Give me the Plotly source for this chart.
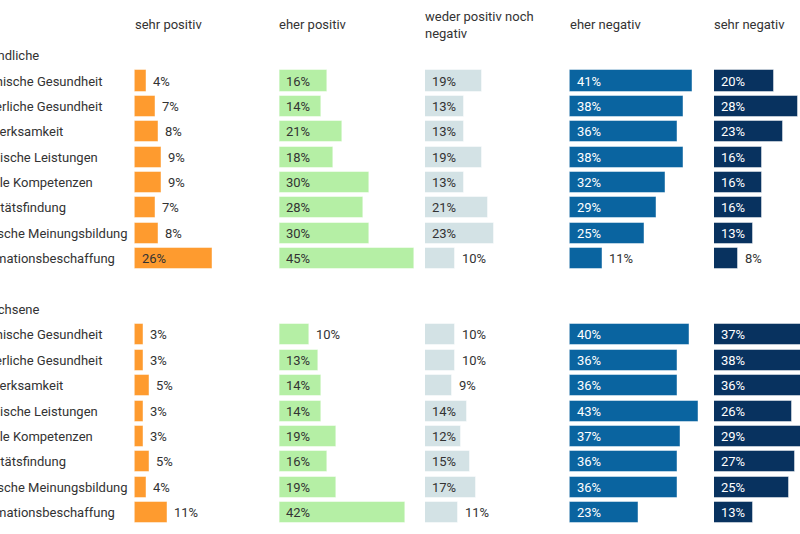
import plotly.graph_objects as go

groups = ["Jugendliche", "Erwachsene"]
items = ["Psychische Gesundheit", "Körperliche Gesundheit", "Aufmerksamkeit",
         "Schulische Leistungen", "Soziale Kompetenzen", "Identitätsfindung",
         "Politische Meinungsbildung", "Informationsbeschaffung"]
columns = ["sehr positiv", "eher positiv", "weder positiv noch<br>negativ",
           "eher negativ", "sehr negativ"]
colors = ["#fe9b2f", "#b5efa5", "#d3e2e5", "#0a64a0", "#08325f"]
text_in_colors = ["#333333", "#333333", "#333333", "#ffffff", "#ffffff"]

jugend = {
    "sehr positiv": [4, 7, 8, 9, 9, 7, 8, 26],
    "eher positiv": [16, 14, 21, 18, 30, 28, 30, 45],
    "weder": [19, 13, 13, 19, 13, 21, 23, 10],
    "eher negativ": [41, 38, 36, 38, 32, 29, 25, 11],
    "sehr negativ": [20, 28, 23, 16, 16, 16, 13, 8],
}
erwachsene = {
    "sehr positiv": [3, 3, 5, 3, 3, 5, 4, 11],
    "eher positiv": [10, 13, 14, 14, 19, 16, 19, 42],
    "weder": [10, 10, 9, 14, 12, 15, 17, 11],
    "eher negativ": [40, 36, 36, 43, 37, 36, 36, 23],
    "sehr negativ": [37, 38, 36, 26, 29, 27, 25, 13],
}
keys = ["sehr positiv", "eher positiv", "weder", "eher negativ", "sehr negativ"]

W, H = 800, 534
col_starts = [134.5, 279.3, 425, 569.5, 714]
px_per_pct = 2.99
col_width = 140

# row positions: group 1 rows 0..7, group 2 rows 10..17
rows_j = list(range(8))
rows_e = [10 + i for i in range(8)]
row_px = 25.39
y0_px = 81.0
y_top = -y0_px / row_px
y_bot = y_top + H / row_px

fig = go.Figure()
annotations = []
for c, key in enumerate(keys):
    xs = "x" if c == 0 else f"x{c+1}"
    axname = "xaxis" if c == 0 else f"xaxis{c+1}"
    d0 = col_starts[c] / W
    d1 = min((col_starts[c] + col_width) / W, 1.0)
    rng_max = (d1 - d0) * W / px_per_pct
    fig.update_layout({axname: dict(domain=[d0, d1], range=[0, rng_max], visible=False,
                                    fixedrange=True, anchor="y")})
    vals = jugend[key] + erwachsene[key]
    ys = rows_j + rows_e
    fig.add_trace(go.Bar(x=vals, y=ys, orientation="h", xaxis=xs, yaxis="y",
                         marker=dict(color=colors[c], line=dict(color="rgba(255,255,255,0.45)", width=1)),
                         width=0.83, showlegend=False, hoverinfo="skip"))
    for v, yy in zip(vals, ys):
        inside = v >= 12
        annotations.append(dict(
            x=0 if inside else v, y=yy, xref=xs, yref="y",
            text=f"{v}%", showarrow=False, xanchor="left", yanchor="middle",
            xshift=5,
            font=dict(family="Roboto", size=13,
                      color=text_in_colors[c] if inside else "#333333")))
    # column header
    annotations.append(dict(
        x=d0, y=1 - (24 / H) if c != 2 else 1 - (25 / H), xref="paper", yref="paper",
        text=columns[c], showarrow=False, xanchor="left", yanchor="middle", align="left",
        xshift=-2,
        font=dict(family="Roboto", size=13, color="#333333")))

label_x = -34 / W
group_x = -33 / W
for gi, (g, rows) in enumerate(zip(groups, [rows_j, rows_e])):
    annotations.append(dict(x=group_x, y=rows[0] - 1, xref="paper", yref="y",
                            text=g, showarrow=False, xanchor="left", yanchor="middle",
                            font=dict(family="Roboto", size=13, color="#333333")))
    for it, r in zip(items, rows):
        annotations.append(dict(x=label_x, y=r, xref="paper", yref="y",
                                text=it, showarrow=False, xanchor="left", yanchor="middle",
                                font=dict(family="Roboto", size=13, color="#333333")))

fig.update_layout(
    width=W, height=H,
    margin=dict(l=0, r=0, t=0, b=0),
    paper_bgcolor="white", plot_bgcolor="white",
    yaxis=dict(range=[y_bot, y_top], visible=False, domain=[0, 1], fixedrange=True),
    annotations=annotations,
    bargap=0,
)
fig.write_html("out.html", config={"displayModeBar": False})
